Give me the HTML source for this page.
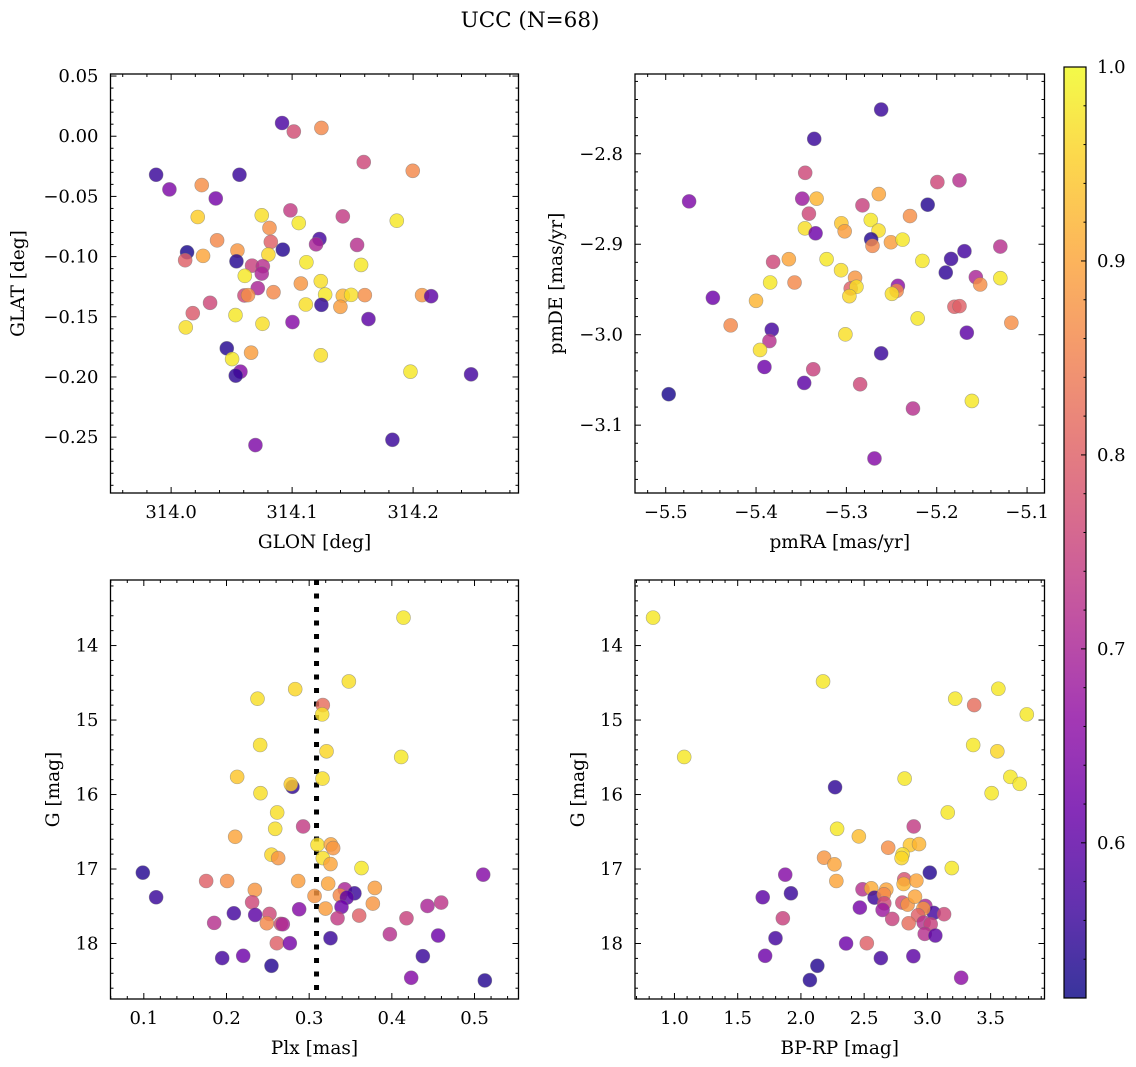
<!DOCTYPE html>
<html><head><meta charset="utf-8">
<style>
html,body{margin:0;padding:0;background:#fff;}
svg{display:block;font-family:"DejaVu Serif","Liberation Serif",serif;}
</style></head>
<body>
<svg id="fig" width="1136" height="1067" viewBox="0 0 1136 1067" xmlns="http://www.w3.org/2000/svg">
<text x="530" y="27" font-size="21.5" text-anchor="middle">UCC (N=68)</text>
</svg>
<script>
// ---- Panel 1: GLON vs GLAT ----
const glonTL = [314.0917,314.1014,314.1242,314.1592,314.1997,313.9876,314.0565,313.9986,314.0253,314.0369,314.0220,314.0749,314.0986,314.1055,314.1419,314.1865,314.0813,314.0380,314.0824,314.1226,314.1198,314.1537,314.0132,314.0116,314.0264,314.0548,314.0540,314.0804,314.0923,314.1118,314.1570,314.0669,314.0758,314.0749,314.0609,314.0716,314.1072,314.1237,314.0606,314.0636,314.0846,314.1273,314.1419,314.1488,314.1601,314.2074,314.2149,314.0322,314.1113,314.1242,314.1399,314.0179,314.0532,314.1003,314.0755,314.1631,314.0121,314.0460,314.0661,314.0504,314.1237,314.0573,314.0534,314.1978,314.2479,314.0697,314.1829];
const glatTL = [0.0110,0.0039,0.0069,-0.0215,-0.0287,-0.0320,-0.0320,-0.0442,-0.0406,-0.0517,-0.0671,-0.0657,-0.0616,-0.0721,-0.0666,-0.0702,-0.0762,-0.0865,-0.0878,-0.0854,-0.0898,-0.0903,-0.0964,-0.1030,-0.0994,-0.0950,-0.1039,-0.0983,-0.0942,-0.1047,-0.1069,-0.1075,-0.1080,-0.1141,-0.1160,-0.1262,-0.1224,-0.1204,-0.1323,-0.1320,-0.1296,-0.1315,-0.1326,-0.1318,-0.1320,-0.1320,-0.1329,-0.1384,-0.1398,-0.1401,-0.1417,-0.1470,-0.1486,-0.1544,-0.1558,-0.1519,-0.1588,-0.1762,-0.1798,-0.1851,-0.1820,-0.1956,-0.1989,-0.1956,-0.1978,-0.2566,-0.2522];
const probTL = [0.58,0.77,0.86,0.76,0.86,0.56,0.56,0.64,0.87,0.63,0.95,0.97,0.74,0.98,0.74,0.98,0.87,0.86,0.80,0.57,0.70,0.72,0.53,0.80,0.90,0.88,0.54,0.96,0.54,0.98,0.98,0.75,0.72,0.70,0.98,0.70,0.88,0.97,0.76,0.87,0.86,0.98,0.92,0.97,0.87,0.88,0.60,0.76,0.97,0.55,0.89,0.79,0.98,0.65,0.97,0.60,0.97,0.54,0.89,0.98,0.97,0.65,0.55,0.98,0.57,0.64,0.56];
// ---- Panel 2: pmRA vs pmDE ----
const pmraTR = [-5.2615,-5.3356,-5.3456,-5.4741,-5.3489,-5.3330,-5.1993,-5.1748,-5.2641,-5.2822,-5.2100,-5.3415,-5.2296,-5.3459,-5.3341,-5.3056,-5.3019,-5.2730,-5.2644,-5.2726,-5.2711,-5.2507,-5.2378,-5.1693,-5.1296,-5.3811,-5.3637,-5.3219,-5.2159,-5.1841,-5.3059,-5.1900,-5.1567,-5.1296,-5.1519,-5.3844,-5.3574,-5.2904,-5.2952,-5.2889,-5.2967,-5.2430,-5.2444,-5.2496,-5.4478,-5.4000,-5.1804,-5.1748,-5.4281,-5.2211,-5.1174,-5.3826,-5.3852,-5.3956,-5.3011,-5.1667,-5.2615,-5.3907,-5.3367,-5.3467,-5.2848,-5.4967,-5.1611,-5.2263,-5.2689];
const pmdeTR = [-2.7511,-2.7835,-2.8210,-2.8526,-2.8496,-2.8496,-2.8313,-2.8294,-2.8445,-2.8570,-2.8563,-2.8662,-2.8688,-2.8824,-2.8879,-2.8768,-2.8857,-2.8732,-2.8849,-2.8945,-2.9018,-2.8978,-2.8949,-2.9077,-2.9026,-2.9195,-2.9165,-2.9165,-2.9184,-2.9162,-2.9287,-2.9313,-2.9364,-2.9375,-2.9445,-2.9423,-2.9423,-2.9371,-2.9489,-2.9471,-2.9574,-2.9460,-2.9515,-2.9548,-2.9592,-2.9625,-2.9691,-2.9684,-2.9897,-2.9820,-2.9868,-2.9945,-3.0070,-3.0169,-2.9996,-2.9978,-3.0206,-3.0357,-3.0382,-3.0533,-3.0548,-3.0658,-3.0732,-3.0816,-3.1368];
const probTR = [0.56,0.56,0.76,0.64,0.68,0.92,0.76,0.72,0.90,0.75,0.54,0.76,0.87,0.97,0.62,0.94,0.89,0.98,0.97,0.54,0.86,0.89,0.98,0.57,0.72,0.76,0.90,0.98,0.98,0.56,0.97,0.55,0.70,0.98,0.87,0.98,0.86,0.88,0.80,0.97,0.96,0.66,0.86,0.97,0.62,0.92,0.80,0.80,0.86,0.98,0.87,0.57,0.72,0.97,0.97,0.60,0.56,0.62,0.75,0.60,0.76,0.53,0.98,0.72,0.65];
// ---- Panel 3: Plx vs G ----
const plxBL = [0.4141,0.3480,0.2831,0.2375,0.3165,0.3157,0.2407,0.3210,0.4113,0.2129,0.3161,0.2798,0.2778,0.2411,0.2613,0.2589,0.2927,0.2105,0.3101,0.3262,0.3290,0.2544,0.2625,0.3165,0.3258,0.3633,0.0988,0.5105,0.1754,0.2008,0.2867,0.2343,0.3230,0.3431,0.3548,0.3794,0.3371,0.3456,0.3065,0.1149,0.2310,0.3391,0.3198,0.3770,0.4431,0.4597,0.2879,0.2089,0.2347,0.2520,0.1851,0.2488,0.2657,0.2681,0.3343,0.3605,0.4177,0.3976,0.4560,0.3258,0.2609,0.2766,0.1948,0.2202,0.4375,0.2544,0.4234,0.5125];
const gBL = [13.625,14.482,14.585,14.714,14.799,14.924,15.335,15.420,15.496,15.763,15.786,15.897,15.862,15.982,16.241,16.460,16.429,16.567,16.674,16.670,16.719,16.808,16.853,16.853,16.933,16.987,17.049,17.076,17.161,17.161,17.161,17.281,17.196,17.272,17.326,17.254,17.353,17.384,17.362,17.379,17.446,17.509,17.531,17.464,17.496,17.451,17.540,17.594,17.616,17.603,17.723,17.728,17.737,17.741,17.661,17.625,17.661,17.875,17.893,17.929,17.996,17.996,18.196,18.165,18.170,18.299,18.460,18.496];
const probBL = [0.98,0.97,0.96,0.97,0.82,0.97,0.97,0.96,0.98,0.94,0.97,0.55,0.95,0.97,0.97,0.97,0.74,0.90,0.97,0.90,0.88,0.96,0.88,0.97,0.90,0.98,0.54,0.65,0.80,0.87,0.89,0.88,0.90,0.70,0.56,0.89,0.86,0.60,0.88,0.56,0.76,0.62,0.89,0.88,0.70,0.73,0.65,0.57,0.60,0.76,0.72,0.86,0.77,0.70,0.74,0.80,0.75,0.72,0.62,0.56,0.80,0.63,0.57,0.62,0.56,0.54,0.65,0.54];
const plxLine = 0.3089;
// ---- Panel 4: BP-RP vs G ----
const bprpBR = [0.831,2.175,3.561,3.220,3.370,3.786,1.077,3.362,3.553,3.656,3.730,2.820,2.270,3.508,3.161,2.286,2.892,2.458,2.690,2.862,2.934,2.804,2.796,2.183,2.265,3.193,3.019,1.876,2.280,2.817,2.812,2.913,2.487,2.556,2.675,1.698,1.921,2.582,2.656,2.659,2.802,2.844,2.902,2.466,2.646,2.984,3.050,2.968,3.132,2.926,2.722,2.852,2.971,3.026,1.857,2.979,3.063,1.799,2.357,2.521,1.717,2.632,2.889,2.130,2.071,3.267];
const gBR = [13.625,14.482,14.580,14.714,14.799,14.924,15.496,15.335,15.420,15.763,15.857,15.786,15.902,15.982,16.241,16.460,16.429,16.562,16.714,16.679,16.665,16.804,16.853,16.848,16.937,16.987,17.049,17.076,17.161,17.138,17.201,17.156,17.272,17.259,17.277,17.379,17.326,17.384,17.339,17.460,17.451,17.478,17.371,17.518,17.549,17.496,17.589,17.531,17.607,17.621,17.670,17.728,17.719,17.741,17.661,17.871,17.893,17.929,18.000,17.996,18.165,18.196,18.170,18.299,18.491,18.460];
const probBR = [0.98,0.98,0.98,0.98,0.82,0.98,0.98,0.98,0.96,0.98,0.98,0.98,0.55,0.98,0.98,0.98,0.74,0.93,0.87,0.94,0.92,0.97,0.96,0.88,0.90,0.98,0.54,0.65,0.90,0.78,0.92,0.90,0.72,0.91,0.90,0.60,0.56,0.56,0.86,0.76,0.77,0.88,0.90,0.63,0.68,0.70,0.57,0.88,0.76,0.80,0.75,0.82,0.72,0.75,0.75,0.72,0.60,0.57,0.62,0.80,0.62,0.57,0.60,0.54,0.54,0.66];
// ---- Tick labels ----
const ticksGlon = [314.0,314.1,314.2];
const ticksGlat = [0.05,0.00,-0.05,-0.10,-0.15,-0.20,-0.25];
const ticksPmra = [-5.5,-5.4,-5.3,-5.2,-5.1];
const ticksPmde = [-2.8,-2.9,-3.0,-3.1];
const ticksPlx = [0.1,0.2,0.3,0.4,0.5];
const ticksG = [14,15,16,17,18];
const ticksBprp = [1.0,1.5,2.0,2.5,3.0,3.5];
const ticksCbar = [0.6,0.7,0.8,0.9,1.0];
const cMin = 0.52, cMax = 1.0;

const NS = "http://www.w3.org/2000/svg";
const svg = document.getElementById('fig');
const TF = 18, AF = 18.5;
function mk(tag, attrs, parent){const e=document.createElementNS(NS,tag);for(const k in attrs)e.setAttribute(k,attrs[k]);(parent||svg).appendChild(e);return e;}
const stops=[[13,8,135],[65,4,157],[106,0,168],[143,13,164],[177,42,144],[204,71,120],[225,100,98],[242,132,75],[252,166,54],[252,206,37],[240,249,33]];
function plasma(t){t=Math.max(0,Math.min(1,t));const f=t*10,i=Math.min(9,Math.floor(f)),r=f-i;const a=stops[i],b=stops[i+1];return `rgb(${Math.round(a[0]+(b[0]-a[0])*r)},${Math.round(a[1]+(b[1]-a[1])*r)},${Math.round(a[2]+(b[2]-a[2])*r)})`;}
function fmt(v,d){const s=Math.abs(v).toFixed(d);return (v<-1e-9?'\u2212':'')+s;}

function panel(o){
  const {name,x0,x1,y0,y1,xmin,xmax,ymin,ymax,xs,ys,ps,xt,yt,xd,yd,xminor,yminor,xlabel,ylabel,ylabx,ylabFn}=o;
  const sx=v=>x0+(v-xmin)/(xmax-xmin)*(x1-x0);
  const sy=v=>y1-(v-ymin)/(ymax-ymin)*(y1-y0);
  const g=mk('g',{});
  
  
  if(o.vline!==undefined){
    const l=mk('line',{x1:sx(o.vline),x2:sx(o.vline),y1:y0,y2:y1,stroke:'#000','stroke-width':5,'stroke-dasharray':'5,8.5'},g);
    
    
  }
  for(let i=0;i<xs.length;i++){
    const c=mk('circle',{cx:sx(xs[i]),cy:sy(ys[i]),r:7,fill:plasma((ps[i]-cMin)/(cMax-cMin)),'fill-opacity':0.82,stroke:'#777','stroke-opacity':0.6,'stroke-width':0.6},g);
    
    
  }
  mk('rect',{x:x0,y:y0,width:x1-x0,height:y1-y0,fill:'none',stroke:'#000','stroke-width':1.3},g);
  const tk=mk('g',{stroke:'#000','stroke-width':1},g);
  
  
  const xs0=Math.ceil(xmin/xminor-1e-6),xs1=Math.floor(xmax/xminor+1e-6);
  for(let k=xs0;k<=xs1;k++){const v=k*xminor;const maj=xt.some(t=>Math.abs(t-v)<xminor/3);const L=maj?6:3;const X=sx(v);
    mk('line',{x1:X,x2:X,y1:y1,y2:y1-L},tk);mk('line',{x1:X,x2:X,y1:y0,y2:y0+L},tk);}
  const ys0=Math.ceil(ymin/yminor-1e-6),ys1=Math.floor(ymax/yminor+1e-6);
  for(let k=ys0;k<=ys1;k++){const v=k*yminor;const maj=yt.some(t=>Math.abs(t-v)<yminor/3);const L=maj?6:3;const Y=sy(v);
    mk('line',{x1:x0,x2:x0+L,y1:Y,y2:Y},tk);mk('line',{x1:x1,x2:x1-L,y1:Y,y2:Y},tk);}
  for(const t of xt){const e=mk('text',{x:sx(t),y:y1+25,'font-size':TF,'text-anchor':'middle'},g);e.textContent=fmt(t,xd);
    
    }
  for(const t of yt){const e=mk('text',{x:x0-12,y:sy(t)+6,'font-size':TF,'text-anchor':'end'},g);e.textContent=ylabFn?ylabFn(t):fmt(t,yd);
    
    }
  const xl=mk('text',{x:(x0+x1)/2,y:y1+55,'font-size':AF,'text-anchor':'middle'},g);xl.textContent=xlabel;
  
  
  const yc=(y0+y1)/2;
  const yl=mk('text',{x:ylabx,y:yc,'font-size':AF,'text-anchor':'middle',transform:`rotate(-90 ${ylabx} ${yc})`},g);yl.textContent=ylabel;
  
  
}

const gLab = t => String(Math.round(-t));
panel({name:'glon-glat',x0:110.5,x1:518.5,y0:74,y1:493,xmin:313.9499,xmax:314.2871,ymin:-0.2964,ymax:0.0517,xs:glonTL,ys:glatTL,ps:probTL,xt:ticksGlon,yt:ticksGlat,xd:1,yd:2,xminor:0.02,yminor:0.01,xlabel:'GLON [deg]',ylabel:'GLAT [deg]',ylabx:24});
panel({name:'pmra-pmde',x0:635,x1:1044.5,y0:74,y1:493,xmin:-5.534,xmax:-5.0807,ymin:-3.175,ymax:-2.7118,xs:pmraTR,ys:pmdeTR,ps:probTR,xt:ticksPmra,yt:ticksPmde,xd:1,yd:1,xminor:0.02,yminor:0.02,xlabel:'pmRA [mas/yr]',ylabel:'pmDE [mas/yr]',ylabx:562});
panel({name:'plx-g',x0:110.5,x1:518.5,y0:580,y1:999,xmin:0.0597,xmax:0.5532,ymin:-18.745,ymax:-13.12,xs:plxBL,ys:gBL.map(v=>-v),ps:probBL,xt:ticksPlx,yt:ticksG.map(v=>-v),xd:1,yd:0,xminor:0.02,yminor:0.2,xlabel:'Plx [mas]',ylabel:'G [mag]',ylabx:59,vline:plxLine,ylabFn:gLab});
panel({name:'bprp-g',x0:635,x1:1044.5,y0:580,y1:999,xmin:0.688,xmax:3.926,ymin:-18.745,ymax:-13.12,xs:bprpBR,ys:gBR.map(v=>-v),ps:probBR,xt:ticksBprp,yt:ticksG.map(v=>-v),xd:1,yd:0,xminor:0.1,yminor:0.2,xlabel:'BP-RP [mag]',ylabel:'G [mag]',ylabx:584,ylabFn:gLab});

// colorbar
const cb={x:1064,y0:67,y1:998,w:22};
const defs=mk('defs',{});
const lg=mk('linearGradient',{id:'cbg',x1:0,y1:1,x2:0,y2:0},defs);
for(let i=0;i<=20;i++){mk('stop',{offset:i/20,'stop-color':plasma(i/20)},lg);}
const cr=mk('rect',{x:cb.x,y:cb.y0,width:cb.w,height:cb.y1-cb.y0,fill:'url(#cbg)','fill-opacity':0.82,stroke:'#000','stroke-width':1.2});


const cy=v=>cb.y1-(v-cMin)/(cMax-cMin)*(cb.y1-cb.y0);
for(let v=0.54;v<=1.0001;v+=0.02){const Y=cy(v);const maj=ticksCbar.some(t=>Math.abs(t-v)<0.005);mk('line',{x1:cb.x+cb.w,x2:cb.x+cb.w-(maj?5:2.5),y1:Y,y2:Y,stroke:'#000','stroke-width':1});}
for(const t of ticksCbar){const e=mk('text',{x:cb.x+cb.w+11,y:cy(t)+6,'font-size':TF},svg);e.textContent=t.toFixed(1);
  
  }
</script>
</body></html>
